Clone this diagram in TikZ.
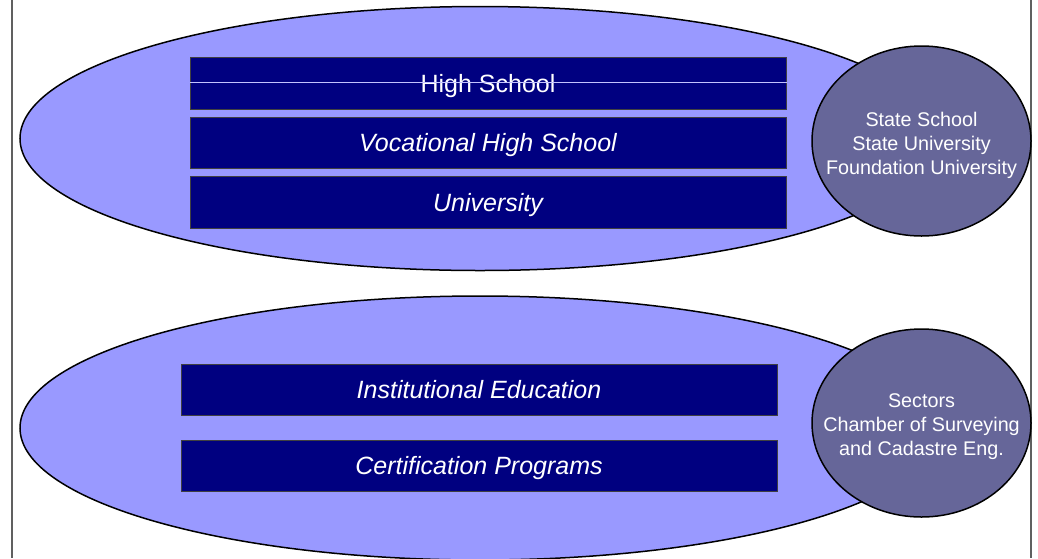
\documentclass[tikz,border=0pt]{standalone}
\usepackage{fontspec}
\setmainfont{Liberation Sans}
\usetikzlibrary{shapes.geometric}
\definecolor{ellfill}{HTML}{9999FF}
\definecolor{circfill}{HTML}{666699}
\definecolor{boxfill}{HTML}{000080}
\definecolor{framecol}{HTML}{606060}
\begin{document}
\begin{tikzpicture}[x=1pt,y=-1pt,
  bigell/.style={ellipse, draw=black, line width=1.5pt, fill=ellfill, inner sep=0pt,
    minimum width=920pt, minimum height=264pt},
  orgell/.style={ellipse, draw=black, line width=1.5pt, fill=circfill, inner sep=0pt,
    minimum width=219pt, minimum height=190pt},
  orgtext/.style={text=white, align=center, inner sep=0pt,
    font=\fontsize{19.75pt}{24pt}\selectfont},
  band/.style={rectangle, draw=black!75, line width=1pt, fill=boxfill, inner sep=0pt,
    minimum width=596pt, minimum height=52pt, text=white, text height=18pt, text depth=0pt,
    font=\fontsize{25pt}{30pt}\selectfont},
  bandit/.style={band, font=\fontsize{25pt}{30pt}\selectfont\itshape},
  framel/.style={draw=framecol, line width=1.5pt}]
\useasboundingbox (0,0) rectangle (1038,558);
% frame
\coordinate (fl1) at (12,0); \coordinate (fl2) at (12,558);
\coordinate (fr1) at (1031,0); \coordinate (fr2) at (1031,558);
\draw[framel] (fl1) -- (fl2);
\draw[framel] (fr1) -- (fr2);
% ellipses
\node[bigell] (e1) at (480,138.5) {};
\node[bigell] (e2) at (480,428) {};
% organisation circles
\node[orgell] (c1) at (921.5,141) {};
\node[orgtext] (c1t) at ([yshift=-4pt]c1.center) {State School\\State University\\Foundation University};
\node[orgell, minimum height=188pt] (c2) at (921.5,423) {};
\node[orgtext] (c2t) at ([yshift=-4pt]c2.center) {Sectors\\Chamber of Surveying\\and Cadastre Eng.};
% bands
\node[band] (hs) at (488,83) {High School};
\node[bandit, minimum height=51pt] (vhs) at (488,142.5) {Vocational High School};
\node[bandit] (uni) at (488,202) {University};
\node[bandit, minimum height=51pt] (inst) at (479,389.5) {Institutional Education};
\node[bandit, minimum height=51pt] (cert) at (479,465.5) {Certification Programs};
% thin line across the High School band
\coordinate (hsy) at (0,82);
\draw[draw=ellfill!60!white, line width=1pt] (hs.west |- hsy) -- (hs.east |- hsy);
\end{tikzpicture}
\end{document}
